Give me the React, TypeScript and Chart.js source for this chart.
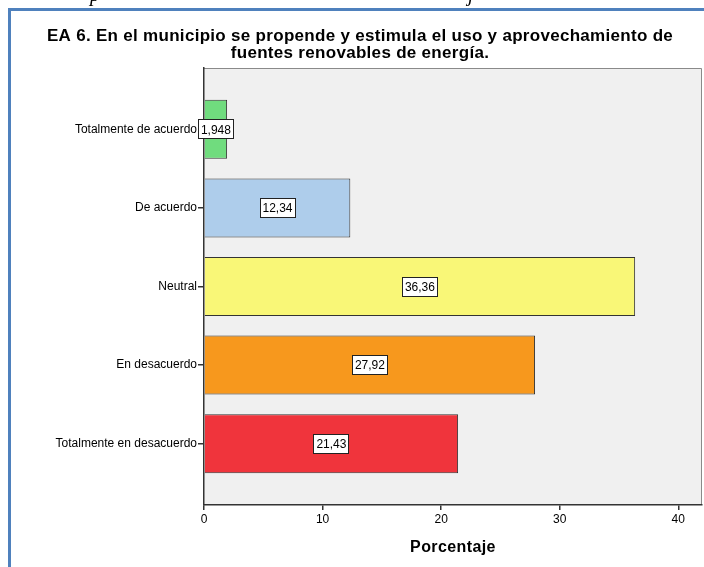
import React, { useEffect, useRef } from "react";
import { Chart, registerables } from "chart.js";
Chart.register(...registerables);

const categories = [
  "Totalmente de acuerdo",
  "De acuerdo",
  "Neutral",
  "En desacuerdo",
  "Totalmente en desacuerdo",
];
const percentages = [1.948, 12.34, 36.36, 27.92, 21.43];
const valueLabels = ["1,948", "12,34", "36,36", "27,92", "21,43"];
const barColors = ["#70dc7e", "#aecdeb", "#f9f777", "#f7981d", "#f0343c"];
const xTicks = [0, 10, 20, 30, 40];
const titleLines = [
  "EA 6. En el municipio se propende y estimula el uso y aprovechamiento de",
  "fuentes renovables de energía.",
];
const xTitle = "Porcentaje";

const FONT = "'Liberation Sans', Arial, sans-serif";

const decorPlugin = {
  id: "decor",
  beforeDraw(chart: any) {
    const { ctx, chartArea: a, width, height } = chart;
    ctx.save();
    ctx.fillStyle = "#ffffff";
    ctx.fillRect(0, 0, width, height);
    ctx.fillStyle = "#f0f0f0";
    ctx.fillRect(a.left, a.top, a.right - a.left, a.bottom - a.top);
    ctx.strokeStyle = "#8a8a8a";
    ctx.lineWidth = 1;
    ctx.beginPath();
    ctx.moveTo(a.left, a.top + 0.5);
    ctx.lineTo(a.right - 0.5, a.top + 0.5);
    ctx.lineTo(a.right - 0.5, a.bottom);
    ctx.stroke();
    ctx.restore();
  },
  afterDraw(chart: any) {
    const { ctx, chartArea: a } = chart;
    ctx.save();
    ctx.fillStyle = "#000";
    ctx.textAlign = "center";
    ctx.textBaseline = "middle";
    // title
    ctx.font = `bold 17px ${FONT}`;
    (ctx as any).letterSpacing = "0.3px";
    ctx.fillText(titleLines[0], 360, 36);
    ctx.fillText(titleLines[1], 360, 53);
    // x title
    ctx.font = `bold 16px ${FONT}`;
    (ctx as any).letterSpacing = "0.4px";
    ctx.fillText(xTitle, (a.left + a.right) / 2, 548);
    (ctx as any).letterSpacing = "0px";
    // value labels
    const meta = chart.getDatasetMeta(0);
    ctx.font = `12px ${FONT}`;
    meta.data.forEach((bar: any, i: number) => {
      const label = valueLabels[i];
      const cx = (bar.x + bar.base) / 2;
      const cy = bar.y;
      const w = Math.round(ctx.measureText(label).width + 6);
      const h = 20;
      const x0 = Math.round(cx - w / 2);
      const y0 = Math.round(cy - h / 2);
      ctx.fillStyle = "#ffffff";
      ctx.fillRect(x0, y0, w, h);
      ctx.strokeStyle = "#222";
      ctx.lineWidth = 1;
      ctx.strokeRect(x0 + 0.5, y0 + 0.5, w - 1, h - 1);
      ctx.fillStyle = "#000";
      ctx.fillText(label, cx, cy + 1);
    });
    ctx.restore();
  },
};

export default function App() {
  const ref = useRef<HTMLCanvasElement | null>(null);
  useEffect(() => {
    if (!ref.current) return;
    const chart = new Chart(ref.current, {
      type: "bar",
      data: {
        datasets: [
          {
            data: percentages.map((v, i) => ({ x: v, y: i })),
            backgroundColor: barColors,
            borderColor: "#333333",
            borderWidth: 1,
            barPercentage: 0.75,
            categoryPercentage: 1,
          },
        ],
      },
      options: {
        indexAxis: "y",
        animation: false,
        responsive: false,
        devicePixelRatio: 1,
        layout: { padding: { top: 68, right: 2, left: 0, bottom: 0 } },
        plugins: {
          legend: { display: false },
          tooltip: { enabled: false },
          title: { display: false },
        },
        scales: {
          x: {
            type: "linear",
            min: 0,
            max: 42,
            offset: false,
            afterBuildTicks: (s: any) => {
              s.ticks = xTicks.map((v) => ({ value: v }));
            },
            afterFit: (s: any) => {
              s.height = 62;
            },
            grid: {
              drawOnChartArea: false,
              drawTicks: true,
              tickLength: 5,
              color: "#333",
              lineWidth: 1.5,
              offset: false,
            },
            border: { color: "#333", width: 1.5 },
            ticks: {
              color: "#000",
              font: { family: FONT, size: 12 },
              padding: 2,
              autoSkip: false,
              maxRotation: 0,
            },
          },
          y: {
            type: "linear",
            reverse: true,
            min: -0.78,
            max: 4.78,
            offset: false,
            afterBuildTicks: (s: any) => {
              s.ticks = categories.map((_, i) => ({ value: i }));
            },
            afterFit: (s: any) => {
              s.width = 204;
            },
            grid: {
              drawOnChartArea: false,
              drawTicks: true,
              tickLength: 6,
              color: "#333",
              lineWidth: 1.5,
              offset: false,
            },
            border: { color: "#333", width: 1.5 },
            ticks: {
              color: "#000",
              font: { family: FONT, size: 12 },
              padding: 1,
              autoSkip: false,
              callback: (v: any) => categories[v as number] ?? "",
            },
          },
        },
      },
      plugins: [decorPlugin],
    } as any);
    return () => chart.destroy();
  }, []);

  return (
    <div
      style={{
        position: "absolute",
        left: 0,
        top: 0,
        width: 704,
        height: 567,
        overflow: "hidden",
        background: "#fff",
      }}
    >
      <canvas
        ref={ref}
        width={704}
        height={567}
        style={{ position: "absolute", left: 0, top: 0, width: 704, height: 567 }}
      />
      <div
        style={{
          position: "absolute",
          left: 0,
          top: 0,
          width: 704,
          height: 7,
          overflow: "hidden",
          fontFamily: "'Liberation Serif', 'Times New Roman', serif",
          fontStyle: "italic",
          fontSize: 20,
          lineHeight: "20px",
        }}
      >
        <span style={{ position: "absolute", left: 90, top: -16 }}>p</span>
        <span style={{ position: "absolute", left: 468, top: -16 }}>j</span>
      </div>
      <div
        style={{
          position: "absolute",
          left: 8,
          top: 8,
          width: 696,
          height: 3,
          background: "#4f81bd",
        }}
      />
      <div
        style={{
          position: "absolute",
          left: 8,
          top: 8,
          width: 3,
          height: 559,
          background: "#4f81bd",
        }}
      />
    </div>
  );
}
